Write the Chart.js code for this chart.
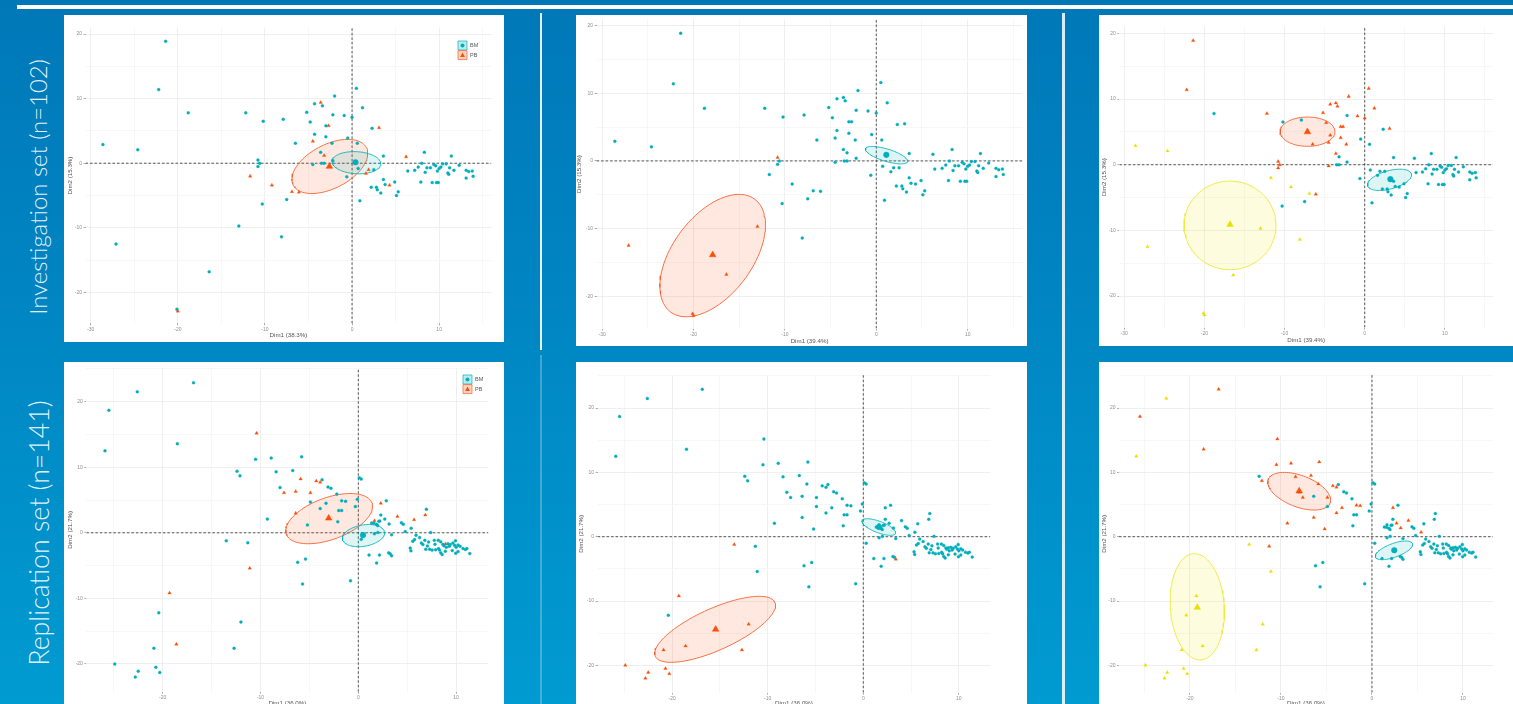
<!DOCTYPE html>
<html><head><meta charset="utf-8">
<script src="https://cdn.jsdelivr.net/npm/chart.js@4.4.1/dist/chart.umd.min.js"></script>
<style>
html,body{margin:0;padding:0;width:1513px;height:704px;overflow:hidden;}
body{position:relative;background:linear-gradient(180deg,#0078b8 0%,#0086c3 45%,#009bd1 100%);font-family:Lato,'Open Sans',sans-serif;}
canvas.panel{position:absolute;background:#fff;}
.side{position:absolute;color:rgba(255,255,255,0.9);font-weight:300;white-space:nowrap;transform:translate(-50%,-50%) rotate(-90deg);font-size:20px;line-height:1;}
.bar{position:absolute;background:#fff;}
</style></head><body>
<div class="bar" style="left:17px;top:5px;width:1496px;height:4px"></div>
<div class="bar" style="left:540px;top:13px;width:2px;height:337px;opacity:.9"></div>
<div class="bar" style="left:540px;top:355px;width:2px;height:349px;opacity:.25"></div>
<div class="bar" style="left:1062px;top:13px;width:3px;height:691px;opacity:.85"></div>
<div class="side" id="s1" style="left:38px;top:187px">Investigation set (n=102)</div>
<div class="side" id="s2" style="left:39px;top:533px">Replication set (n=141)</div>
<canvas id="c1" class="panel"></canvas>
<canvas id="c2" class="panel"></canvas>
<canvas id="c3" class="panel"></canvas>
<canvas id="c4" class="panel"></canvas>
<canvas id="c5" class="panel"></canvas>
<canvas id="c6" class="panel"></canvas>
<script>
// ================= DATA =================
// Investigation set (n=102): individual coordinates on Dim1 / Dim2
const invX = [-21.4,-22.2,-18.8,-28.6,-24.6,-27.1,-20.1,-20.0,-16.4,-13.0,-10.8,-10.8,-10.6,-12.2,-10.2,-11.7,-9.2,-10.3,-8.1,-7.9,
 -7.5,-6.9,-6.1,-6.5,-5.2,-4.8,-4.5,-4.3,-4.3,-3.6,-3.4,-3.6,-3.2,-3.0,-2.7,-3.0,-4.5,-3.5,-3.2,-2.3,
 -2.2,-2.0,-2.2,-0.9,-0.5,-0.6,0.0,0.5,1.2,0.6,2.3,3.1,3.6,0.7,0.9,1.6,1.9,2.5,2.2,2.8,
 2.9,3.3,3.6,3.8,4.3,4.9,5.1,5.3,6.2,6.4,7.2,7.6,7.9,8.0,8.3,8.4,8.6,9.0,9.2,9.4,
 9.6,9.7,9.9,9.8,10.0,10.2,10.4,10.8,11.0,11.1,11.2,11.4,11.7,12.3,13.1,13.1,13.4,13.8,13.9];
const invY = [18.9,11.4,7.8,2.9,2.1,-12.5,-22.6,-22.9,-16.8,-9.7,0.5,-0.5,0.0,7.8,6.5,-2.0,-3.4,-6.3,-11.4,6.8,
 -5.6,-4.4,-4.5,3.1,7.9,6.4,3.4,9.2,4.5,9.4,8.9,1.7,1.2,5.8,5.8,4.1,-0.2,0.0,0.0,3.1,
 7.5,10.4,0.4,7.4,3.9,-2.1,7.1,11.6,8.6,3.1,5.4,5.5,1.1,-0.8,-5.8,-1.6,-1.0,-1.0,-3.7,-3.7,
 -4.1,-4.6,-2.5,-3.3,-3.4,-2.9,-5.0,-4.4,1.0,-1.2,-1.1,-0.6,-2.9,0.0,1.7,-1.4,-0.7,-0.7,-3.0,-0.2,
 -0.4,-3.0,-3.0,-1.2,-0.8,-0.6,-0.1,-0.1,-1.5,-1.7,-0.7,1.1,-1.1,-0.3,-1.1,-2.3,-1.3,-1.2,-2.0];
// tissue: 0 = BM, 1 = PB
const invTissue = [0,0,0,0,0,0,0,1,0,0,0,0,0,0,0,1,1,0,0,0, 0,1,1,0,0,0,1,0,0,1,0,0,1,0,1,0,0,0,0,0,
 0,0,0,0,0,0,0,0,0,0,0,1,0,0,0,1,1,0,0,0, 0,0,0,0,1,0,0,0,1,0,0,0,0,0,0,0,0,0,0,0, 0,0,0,0,0,0,0,0,0,0,0,0,0,0,0,0,0,0,0];
const invGroup2 = [0,0,0,0,0,1,1,1,1,1,1,0,0,0,0,0,0,0,0,0, 0,0,0,0,0,0,0,0,0,0,0,0,0,0,0,0,0,0,0,0,
 0,0,0,0,0,0,0,0,0,0,0,0,0,0,0,0,0,0,0,0, 0,0,0,0,0,0,0,0,0,0,0,0,0,0,0,0,0,0,0,0, 0,0,0,0,0,0,0,0,0,0,0,0,0,0,0,0,0,0,0];
const invGroup3 = [1,1,0,2,2,2,2,2,2,2,1,1,1,1,0,2,2,0,2,0, 0,2,1,1,1,1,1,1,1,1,1,1,0,1,1,1,1,0,0,1,
 0,1,0,1,0,0,1,1,1,0,0,1,0,0,0,0,0,0,0,0, 0,0,0,0,0,0,0,0,0,0,0,0,0,0,0,0,0,0,0,0, 0,0,0,0,0,0,0,0,0,0,0,0,0,0,0,0,0,0,0];

// Replication set (n=141)
const repX = [-16.85,-22.6,-25.5,-25.9,-18.5,-10.4,-10.5,-8.9,-12.4,-12.1,-8.4,-6.7,-5.8,-5.9,-8.0,-7.6,-6.4,-4.9,-4.9,-4.3,
 -3.9,-3.7,-3.1,-2.8,-2.2,-1.7,-1.3,-2.0,-1.7,-2.1,-3.9,-3.3,-6.4,-5.2,-9.3,-0.3,-0.1,0.1,0.3,0.3,
 -0.8,-6.2,-5.4,-5.7,-11.3,-11.1,-13.5,-20.4,-19.3,-20.9,-18.6,-12.0,-12.7,-24.9,-22.5,-22.8,-20.7,-20.3,
 2.3,2.86,2.3,2.7,3.15,4.0,5.4,1.36,1.6,1.87,1.65,2.1,2.2,1.98,4.4,4.6,5.7,6.85,6.96,7.4,4.8,2.0,1.65,3.4,
 1.1,2.16,3.1,3.4,3.26,1.87,8.9,
 5.9,5.75,5.57,5.31,5.38,6.26,6.45,6.6,7.18,7.07,7.29,7.77,7.84,8.17,8.42,8.64,8.75,9.0,9.3,8.3,
 8.42,8.57,8.2,9.67,9.93,9.85,10.0,9.96,10.2,10.4,10.7,10.95,11.1,11.4,9.6,9.4,8.9,7.9,7.55,6.8,6.9,9.16,10.2];
const repY = [22.9,21.5,18.7,12.5,13.6,15.2,11.2,11.4,9.4,8.7,9.3,9.5,11.6,8.2,6.9,6.1,6.3,6.1,4.7,7.9,
 7.7,8.1,7.0,6.8,5.9,4.9,4.8,3.4,3.4,1.7,3.7,4.5,3.0,1.2,2.1,4.0,5.1,8.4,8.2,-1.0,
 -7.3,-4.5,-4.0,-7.8,-1.5,-5.4,-1.2,-12.2,-9.2,-17.6,-17.0,-13.6,-17.6,-20.0,-21.1,-22.0,-20.5,-21.3,
 4.5,4.9,2.7,2.1,1.35,2.5,0.7,1.5,1.45,1.3,1.85,1.76,1.8,1.1,1.55,1.3,2.0,2.7,3.6,0.05,0.2,0.05,-0.15,-0.3,
 -3.4,-3.4,-3.06,-3.5,-3.2,-4.6,-1.7,
 -0.36,-1.04,-1.3,-2.33,-2.75,-0.73,-1.55,-1.8,-1.4,-2.0,-2.5,-1.14,-1.76,-1.14,-1.35,-1.76,-1.97,-2.2,-2.07,-2.64,
 -3.06,-3.3,-2.4,-1.55,-1.2,-1.9,-2.2,-3.1,-1.87,-2.07,-2.4,-2.54,-2.4,-3.16,-2.7,-1.8,-2.8,-2.6,-2.64,-1.14,-2.5,-1.66,-2.85];
const repTissue = [0,0,0,0,0,1,0,0,0,0,0,0,0,1,0,1,1,1,0,1, 1,0,0,0,0,0,0,0,0,0,0,0,1,0,0,0,0,0,0,0,
 0,0,0,0,0,1,0,0,1,0,1,0,0,0,0,0,0,0,
 1,0,0,0,0,1,0,0,0,0,1,0,0,0,0,0,1,1,0,0,0,0,0,0, 0,0,0,0,0,0,1,
 0,0,0,0,0,0,0,0,0,0,0,0,0,0,0,0,0,0,0,0, 0,0,0,0,0,0,0,0,0,0,0,0,0,0,0,0,0,0,0,0,0,0,0];
const repGroup2 = [0,0,0,0,0,0,0,0,0,0,0,0,0,0,0,0,0,0,0,0, 0,0,0,0,0,0,0,0,0,0,0,0,0,0,0,0,0,0,0,0,
 0,0,0,0,0,0,1,0,1,1,1,1,1,1,1,1,1,1,
 0,0,0,0,0,0,0,0,0,0,0,0,0,0,0,0,0,0,0,0,0,0,0,0, 0,0,0,1,0,0,0,
 0,0,0,0,0,0,0,0,0,0,0,0,0,0,0,0,0,0,0,0, 0,0,0,0,0,0,0,0,0,0,0,0,0,0,0,0,0,0,0,0,0,0,0];
const repGroup3 = [1,2,1,2,1,1,1,1,0,1,1,1,1,1,1,1,0,1,0,1, 1,0,0,0,0,1,1,0,0,0,1,1,1,1,1,0,0,0,0,0,
 0,0,0,0,1,2,2,2,2,2,2,2,2,2,2,2,2,2,
 1,0,0,1,1,1,1,0,0,0,0,0,0,0,0,0,0,0,0,0,0,0,0,0, 0,0,0,0,0,0,0,
 0,0,0,0,0,0,0,0,0,0,0,0,0,0,0,0,0,0,0,0, 0,0,0,0,0,0,0,0,0,0,0,0,0,0,0,0,0,0,0,0,0,0,0];

// group centroids [x, y] per panel and group (0 teal, 1 orange, 2 yellow)
const centroids1 = [[0.4,0.15],[-2.6,-0.5]];
const centroids2 = [[1.1,0.9],[-17.9,-13.9]];
const centroids3 = [[3.2,-2.2],[-7.15,5.0],[-16.8,-9.1]];
const centroids4 = [[0.48,-0.36],[-3.03,2.23]];
const centroids5 = [[1.65,1.5],[-15.45,-14.4]];
const centroids6 = [[2.45,-2.1],[-8.0,7.1],[-19.2,-11.0]];
// confidence ellipses: [centerX, centerY, axis1X, axis1Y, axis2X, axis2Y]
const ellipses1 = [[0.5,0.08,2.8,-0.26,0.15,1.7],[-2.55,-0.5,4.2,2.9,-1.15,3.03]];
const ellipses2 = [[1.12,0.85,2.3,-0.95,0.2,0.87],[-17.9,-14.0,4.6,8.35,-3.5,3.5]];
const ellipses3 = [[3.1,-2.3,2.73,0.91,-0.3,1.34],[-7.13,5.03,3.43,0,0,2.23],[-16.8,-9.24,5.74,0,0,6.75]];
const ellipses4 = [[0.53,-0.43,2.15,0.56,-0.19,1.6],[-2.98,2.16,4.38,2.38,-0.73,3.0]];
const ellipses5 = [[1.62,1.5,1.75,-0.99,0.21,0.83],[-15.5,-14.4,6.26,4.2,-0.9,2.95]];
const ellipses6 = [[2.42,-2.12,2.03,1.05,-0.26,1.0],[-8.0,7.07,3.4,-1.82,0.61,2.29],[-19.2,-10.9,-0.3,8.26,2.97,0]];

// axis ranges per row
const invXRange = [-30.6, 16.0], invYRange = [-24.8, 21.0];
const repXRange = [-27.8, 13.3], repYRange = [-24.25, 25.15];
const legendLabels = ['BM','PB'];
const xTitles = ['Dim1 (38.3%)','Dim1 (39.4%)','Dim1 (39.4%)','Dim1 (36.0%)','Dim1 (36.0%)','Dim1 (36.0%)'];
const yTitles = ['Dim2 (15.3%)','Dim2 (15.3%)','Dim2 (15.3%)','Dim2 (21.7%)','Dim2 (21.7%)','Dim2 (21.7%)'];

// ================= STYLE / LAYOUT =================
const COLORS = ['#00AFBB','#FC4E07','#E9E000'];
const FILLS = ['rgba(0,175,187,0.13)','rgba(252,78,7,0.13)','rgba(240,235,0,0.13)'];
const EDGES = ['rgba(0,175,187,0.85)','rgba(245,90,40,0.85)','rgba(238,232,60,0.9)'];
const SHAPES = ['circle','triangle','triangle'];
const PANELS = [
 {id:'c1',left:64,top:15,w:440,h:327,L:21.5,R:427.4,T:12.6,B:308.4,yT:6,xT:320,legend:{x:394,y:26}},
 {id:'c2',left:576,top:15,w:451,h:331,L:20.6,R:451,T:0,B:313.6,yT:3.3,xT:326.7,ymax:20.92},
 {id:'c3',left:1099,top:15,w:414,h:331,L:20.4,R:394,T:11.8,B:312.6,yT:5.3,xT:325},
 {id:'c4',left:64,top:362,w:440,h:342,L:22.4,R:424.4,T:5.9,B:329.8,yT:6,xT:341.3,legend:{x:399,y:13}},
 {id:'c5',left:576,top:362,w:451,h:342,L:21.6,R:414.4,T:12.9,B:330.7,yT:5.7,xT:341.3},
 {id:'c6',left:1099,top:362,w:414,h:342,L:20,R:394,T:12.9,B:330.7,yT:5.3,xT:341.3}
];
const SETUP = [
 {xs:invX,ys:invY,codes:invTissue,cent:centroids1,ell:ellipses1,xr:invXRange,yr:invYRange},
 {xs:invX,ys:invY,codes:invGroup2,cent:centroids2,ell:ellipses2,xr:invXRange,yr:invYRange},
 {xs:invX,ys:invY,codes:invGroup3,cent:centroids3,ell:ellipses3,xr:invXRange,yr:invYRange},
 {xs:repX,ys:repY,codes:repTissue,cent:centroids4,ell:ellipses4,xr:repXRange,yr:repYRange},
 {xs:repX,ys:repY,codes:repGroup2,cent:centroids5,ell:ellipses5,xr:repXRange,yr:repYRange},
 {xs:repX,ys:repY,codes:repGroup3,cent:centroids6,ell:ellipses6,xr:repXRange,yr:repYRange}
];

Chart.defaults.font.family = "'Liberation Sans', Arial, sans-serif";
Chart.defaults.animation = false;

function groupPoints(xs, ys, codes, g){
  const out = [];
  for (let i = 0; i < xs.length; i++) if (codes[i] === g) out.push({x: xs[i], y: ys[i]});
  return out;
}
function ellipseOutline(e){
  const [cx,cy,ux,uy,vx,vy] = e, pts = [];
  for (let k = 0; k <= 90; k++){
    const t = k / 90 * Math.PI * 2;
    pts.push({x: cx + ux*Math.cos(t) + vx*Math.sin(t), y: cy + uy*Math.cos(t) + vy*Math.sin(t)});
  }
  return pts;
}

const keyLegend = {
  id: 'keyLegend',
  afterDraw(chart, args, opts){
    if (!opts || !opts.show) return;
    const ctx = chart.ctx;
    ctx.save();
    opts.labels.forEach((lab, i) => {
      const x = opts.x, y = opts.y + i * 9.6, s = 9;
      ctx.fillStyle = FILLS[i].replace('0.13','0.25');
      ctx.strokeStyle = EDGES[i];
      ctx.lineWidth = 0.8;
      ctx.beginPath(); ctx.rect(x, y, s, s); ctx.fill(); ctx.stroke();
      ctx.fillStyle = COLORS[i];
      const cx = x + s/2, cy = y + s/2;
      ctx.beginPath();
      if (SHAPES[i] === 'circle') ctx.arc(cx, cy, 2, 0, Math.PI*2);
      else { ctx.moveTo(cx, cy-2.6); ctx.lineTo(cx+2.4, cy+1.8); ctx.lineTo(cx-2.4, cy+1.8); ctx.closePath(); }
      ctx.fill();
      ctx.fillStyle = '#555';
      ctx.font = "5.5px 'Liberation Sans', Arial, sans-serif";
      ctx.textBaseline = 'middle';
      ctx.fillText(lab, x + s + 3, cy);
    });
    ctx.restore();
  }
};

const LH = 6.2 * 1.2;
PANELS.forEach((p, k) => {
  const S = SETUP[k];
  const cv = document.getElementById(p.id);
  cv.width = p.w; cv.height = p.h;
  cv.style.left = p.left + 'px'; cv.style.top = p.top + 'px';
  cv.style.width = p.w + 'px'; cv.style.height = p.h + 'px';
  const ymin = S.yr[0], ymax = p.ymax !== undefined ? p.ymax : S.yr[1];
  const xmin = S.xr[0], xmax = S.xr[1];
  const padL = Math.max(0, p.yT - LH/2), yTitlePad = p.yT - LH/2 - padL;
  const padB = Math.max(0, p.h - p.xT - LH/2), xTitlePad = p.h - padB - LH/2 - p.xT;
  const Wy = p.L - padL, Hx = p.h - padB - p.B;
  const ngroups = S.cent.length;
  const datasets = [];
  datasets.push({data:[{x:0,y:ymin},{x:0,y:ymax}], showLine:true, pointRadius:0, borderColor:'#444', borderWidth:0.9, borderDash:[2.5,2], order:6});
  datasets.push({data:[{x:xmin,y:0},{x:xmax,y:0}], showLine:true, pointRadius:0, borderColor:'#444', borderWidth:0.9, borderDash:[2.5,2], order:6});
  for (let g = 0; g < ngroups; g++){
    datasets.push({data: ellipseOutline(S.ell[g]), showLine:true, pointRadius:0, fill:'shape',
      backgroundColor: FILLS[g], borderColor: EDGES[g], borderWidth:1, tension:0, order:5});
  }
  for (let g = 0; g < ngroups; g++){
    datasets.push({data: groupPoints(S.xs, S.ys, S.codes, g), pointStyle: SHAPES[g],
      pointRadius: SHAPES[g]==='circle' ? 1.5 : 2.0, backgroundColor: COLORS[g], borderColor: COLORS[g], borderWidth: 0.3, order:3});
  }
  for (let g = 0; g < ngroups; g++){
    datasets.push({data: [{x:S.cent[g][0], y:S.cent[g][1]}], pointStyle: SHAPES[g],
      pointRadius: SHAPES[g]==='circle' ? 2.8 : 3.8, backgroundColor: COLORS[g], borderColor: COLORS[g], borderWidth: 0.5, order:1});
  }
  const gridColor = c => (c.tick && Math.round(c.tick.value) % 10 === 0) ? '#ebebeb' : '#f5f5f5';
  const tickColor = c => (c.tick && Math.round(c.tick.value) % 10 === 0) ? '#9a9a9a' : 'rgba(0,0,0,0)';
  const lbl = v => (Math.round(v) % 10 === 0 ? String(Math.round(v)) : '');
  new Chart(cv, {
    type: 'scatter',
    data: {datasets},
    plugins: [keyLegend],
    options: {
      responsive: false, devicePixelRatio: 1, animation: false,
      layout: {padding: {left: padL, right: p.w - p.R, top: p.T, bottom: padB}},
      plugins: {legend: {display:false}, tooltip: {enabled:false},
        keyLegend: p.legend ? {show:true, x:p.legend.x, y:p.legend.y, labels: legendLabels} : {show:false}},
      scales: {
        x: {type:'linear', min:xmin, max:xmax,
          border:{display:false},
          grid:{color:gridColor, lineWidth:0.8, drawTicks:true, tickLength:2, tickColor:tickColor},
          ticks:{stepSize:5, includeBounds:false, autoSkip:false, maxRotation:0, padding:1, font:{size:5}, color:'#8e8e8e', callback: lbl},
          title:{display:true, text:xTitles[k], font:{size:6.2}, color:'#555', padding:{top:0, bottom:xTitlePad}},
          afterFit: s => { s.height = Hx; s.paddingLeft = 0; s.paddingRight = 0; }
        },
        y: {type:'linear', min:ymin, max:ymax,
          border:{display:false},
          grid:{color:gridColor, lineWidth:0.8, drawTicks:true, tickLength:2, tickColor:tickColor},
          ticks:{stepSize:5, includeBounds:false, autoSkip:false, padding:1.5, font:{size:5}, color:'#8e8e8e', callback: lbl},
          title:{display:true, text:yTitles[k], font:{size:6.2}, color:'#555', padding:{top:yTitlePad, bottom:0}},
          afterFit: s => { s.width = Wy; s.paddingTop = 0; s.paddingBottom = 0; }
        }
      }
    }
  });
});

function fitSide(id, target){
  const el = document.getElementById(id);
  el.style.fontSize = '20px';
  const w = el.offsetWidth;
  if (w > 0) el.style.fontSize = (20 * target / w) + 'px';
}
fitSide('s1', 256); fitSide('s2', 266);
if (document.fonts && document.fonts.ready) document.fonts.ready.then(() => { fitSide('s1', 256); fitSide('s2', 266); });
</script>
</body></html>
